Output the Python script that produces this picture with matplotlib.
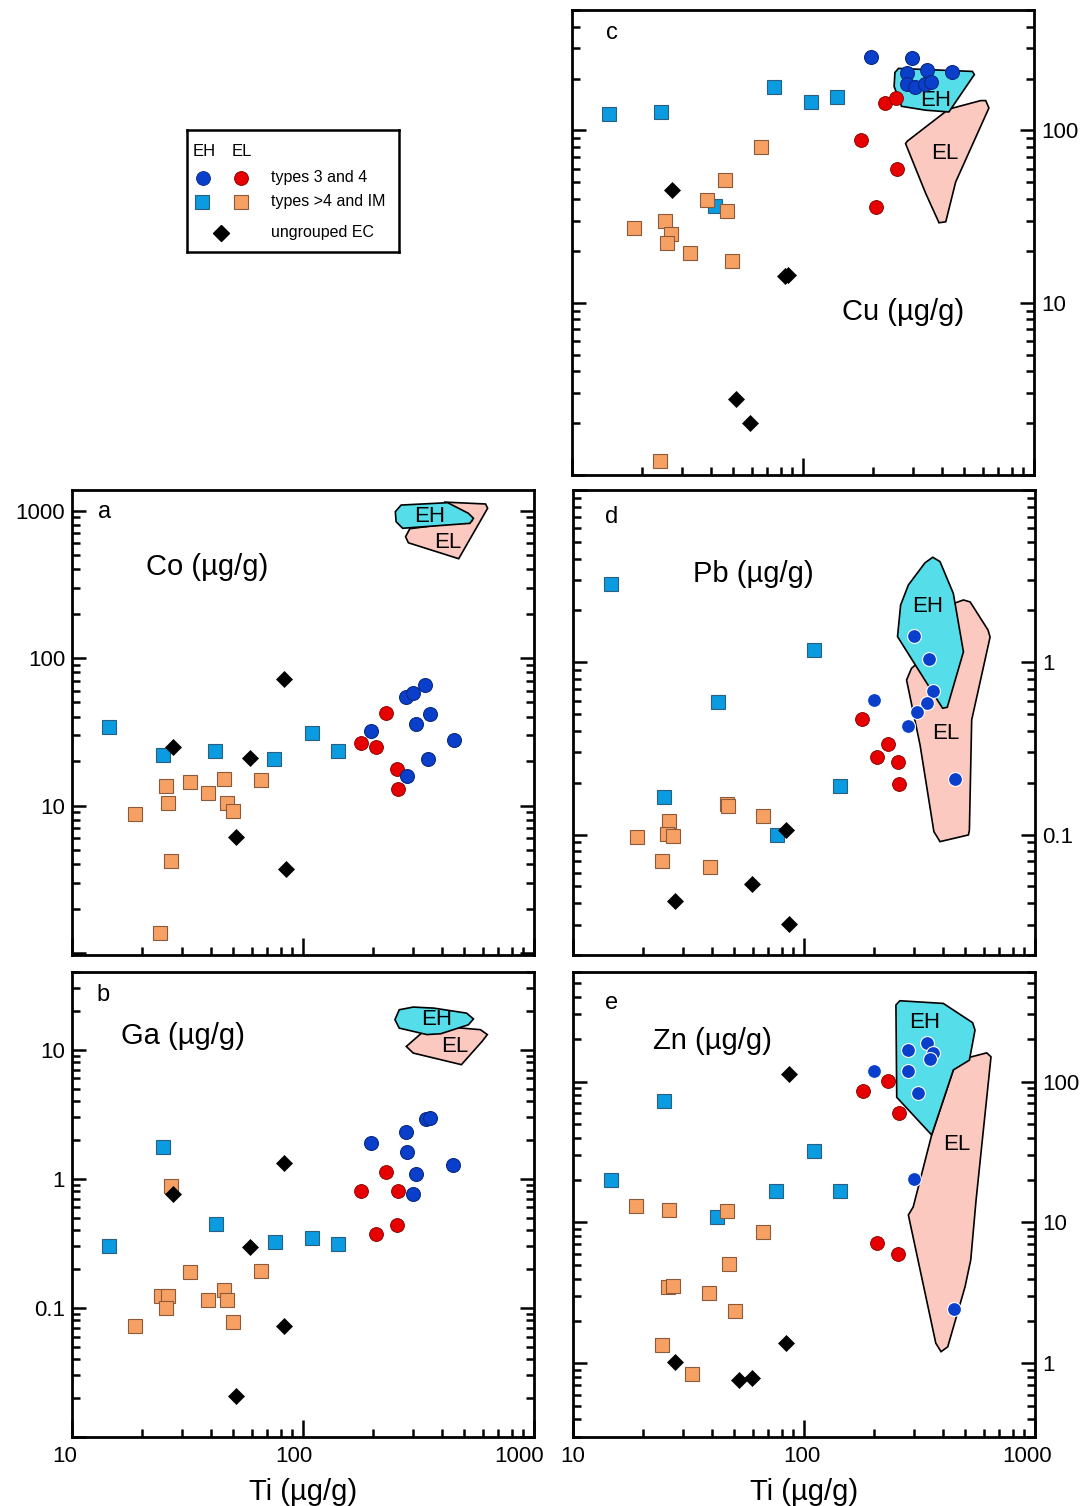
import numpy as np
import matplotlib
matplotlib.use('Agg')
import matplotlib.pyplot as plt
from matplotlib.patches import Polygon
from matplotlib.ticker import LogLocator, NullFormatter
from matplotlib.transforms import blended_transform_factory, ScaledTranslation

plt.rcParams['font.family'] = ['Liberation Sans', 'DejaVu Sans']

# ---- data, pairs of (Ti, element) in ug/g
# a: Co
co_eh34 = [(197, 32.1), (280, 54.7), (300, 58.2), (338, 65.8), (356, 41.6), (308, 35.7), (449, 27.9), (347, 20.7), (282, 15.9)]
co_el34 = [(228, 42.3), (178, 26.4), (207, 24.8), (255, 17.7), (257, 12.9)]
co_eh_hi = [(14.5, 34.0), (24.7, 22.0), (41.7, 23.6), (74.8, 20.6), (109, 31.2), (142, 23.5)]
co_el_hi = [(25.6, 13.6), (32.5, 14.4), (38.6, 12.2), (45.7, 15.1), (65.8, 14.9), (26.0, 10.4), (47.0, 10.4),
            (49.8, 9.2), (18.7, 8.8), (26.9, 4.2), (24.0, 1.37)]
co_ung = [(27.4, 25.1), (59.2, 20.9), (51.4, 6.1), (84.3, 3.7), (82.8, 71.8)]
co_field_eh = [(266, 1091), (423, 1132), (520, 959), (547, 887), (528, 820), (270, 759), (253, 841), (251, 984)]
co_field_el = [(408, 1143), (617, 1109), (630, 1038), (472, 472), (286, 605), (278, 665), (290, 754), (542, 855)]

# b: Ga
ga_eh34 = [(197, 1.90), (280, 2.31), (342, 2.91), (356, 2.96), (282, 1.60), (447, 1.29), (308, 1.08), (298, 0.764)]
ga_el34 = [(228, 1.12), (178, 0.80), (257, 0.80), (207, 0.377), (255, 0.436)]
ga_eh_hi = [(24.8, 1.75), (14.5, 0.304), (42.0, 0.443), (75.4, 0.323), (109, 0.349), (142, 0.315)]
ga_el_hi = [(26.9, 0.875), (32.5, 0.189), (65.8, 0.192), (24.2, 0.123), (26.1, 0.123), (25.5, 0.100),
            (38.6, 0.115), (45.7, 0.137), (46.7, 0.116), (49.8, 0.078), (18.7, 0.073)]
ga_ung = [(27.4, 0.764), (82.8, 1.33), (59.2, 0.297), (82.8, 0.072), (51.4, 0.0207)]
ga_field_eh = [(261, 20.4), (300, 21.4), (369, 21.0), (511, 19.2), (547, 17.3), (520, 15.6), (395, 13.3),
               (344, 13.1), (261, 14.7), (250, 17.1)]
ga_field_el = [(280, 10.6), (333, 13.9), (408, 15.1), (586, 14.3), (628, 13.1), (596, 11.6), (485, 7.66),
               (453, 7.89), (300, 9.42)]

# c: Cu
cu_eh34 = [(196, 268), (297, 265), (281, 214), (345, 225), (443, 217), (281, 186), (305, 178), (337, 185), (357, 192)]
cu_el34 = [(226, 145), (253, 154), (178, 88), (256, 59.7), (206, 36)]
cu_eh_hi = [(14.5, 124), (24.4, 128), (74.9, 178), (108.6, 146), (140.8, 157), (41.6, 36.4)]
cu_el_hi = [(65.6, 80), (45.8, 51.4), (38.5, 39.4), (46.7, 34.2), (18.6, 27.2), (25.3, 29.9), (26.7, 24.9),
            (25.9, 22.1), (32.3, 19.5), (49.4, 17.5), (24.0, 1.21)]
cu_ung = [(27.2, 45), (83.3, 14.2), (86.4, 14.4), (51.4, 2.75), (58.8, 2.0)]
cu_field_eh = [(259, 229), (541, 220), (552, 211), (428, 128), (340, 131), (267, 138), (248, 180), (250, 217)]
cu_field_el = [(428, 133), (588, 149), (618, 149), (638, 135), (458, 50.2), (415, 29.5), (388, 29.1),
               (340, 43), (278, 83.8), (283, 86.7)]

# d: Pb
pb_eh34 = [(300, 1.42), (348, 1.045), (361, 0.684), (340, 0.583), (309, 0.513), (200, 0.604), (283, 0.427), (451, 0.21)]
pb_el34 = [(178, 0.467), (232, 0.336), (208, 0.283), (256, 0.263), (259, 0.196)]
pb_eh_hi = [(14.6, 2.84), (110, 1.18), (42.3, 0.59), (143, 0.191), (24.8, 0.165), (76.2, 0.0995)]
pb_el_hi = [(46.3, 0.15), (47.0, 0.147), (26.1, 0.12), (66.2, 0.128), (18.9, 0.0973), (25.5, 0.101),
            (27.2, 0.098), (24.4, 0.0706), (39.2, 0.0651)]
pb_ung = [(83.6, 0.107), (59.6, 0.0517), (27.7, 0.0413), (85.9, 0.0302)]
pb_field_eh = [(361, 4.07), (388, 3.84), (443, 2.51), (490, 1.15), (417, 0.548), (398, 0.541), (254, 1.41),
               (262, 2.15), (283, 2.81), (334, 3.78)]
pb_field_el = [(490, 2.30), (524, 2.24), (626, 1.54), (639, 1.40), (532, 0.463), (520, 0.106), (515, 0.0995),
               (388, 0.091), (365, 0.104), (318, 0.331), (305, 0.433), (278, 0.789), (292, 0.923),
               (408, 1.35), (451, 2.21)]

# e: Zn
zn_eh34 = [(340, 189), (283, 168), (361, 160), (351, 144), (283, 118), (200, 119), (310, 82.6), (300, 20.3), (448, 2.43)]
zn_el34 = [(230, 101), (180, 85.8), (259, 60.1), (208, 7.12), (256, 5.97)]
zn_eh_hi = [(24.8, 72.8), (110, 32.4), (14.6, 20.0), (75.7, 16.7), (143, 16.8), (42.2, 10.9)]
zn_el_hi = [(18.7, 13.1), (26.1, 12.3), (46.3, 12.1), (66.2, 8.61), (47.3, 5.08), (25.7, 3.50), (27.2, 3.54),
            (38.9, 3.18), (50.2, 2.37), (24.4, 1.34), (32.8, 0.841)]
zn_ung = [(85.9, 113), (27.7, 1.02), (52.3, 0.762), (59.7, 0.784), (83.6, 1.39)]
zn_field_eh = [(250, 350), (260, 375), (401, 359), (537, 262), (550, 232), (520, 142), (443, 121), (357, 41.8), (252, 77.4)]
zn_field_el = [(498, 146), (618, 160), (645, 150), (556, 14.5), (527, 5.42), (498, 3.50), (419, 1.31), (392, 1.21),
               (372, 1.39), (283, 11.3), (297, 12.9), (357, 41.8), (443, 121)]

ti_ticks = [10, 100, 1000]
ti_ticklabels = ['10', '100', '1000']

# colours
c_eh34 = '#0a3fcc'
c_el34 = '#e60000'
c_eh_hi = '#0a9be0'
c_el_hi = '#f7a064'
c_field_eh = '#55dde9'
c_field_el = '#fcc9c0'

fig = plt.figure(figsize=(10.81, 15.06), dpi=100)

W, H = 1081, 1506


def box(left, top, right, bottom):
    return [left / W, 1 - bottom / H, (right - left) / W, (bottom - top) / H]


def panel(rect, ylim, yticks, ylabels, side, eh34, el34, eh_hi, el_hi, ung,
          field_eh, field_el, circ_edge):
    ax = fig.add_axes(rect)
    ax.set_xscale('log')
    ax.set_yscale('log')
    ax.add_patch(Polygon(field_el, closed=True, fc=c_field_el, ec='black', lw=1.2, zorder=1))
    ax.add_patch(Polygon(field_eh, closed=True, fc=c_field_eh, ec='black', lw=1.2, zorder=1.1))

    def pts(data, **kw):
        x, y = zip(*data)
        ax.plot(x, y, ls='none', zorder=3, **kw)

    pts(eh_hi, marker='s', ms=10.5, mfc=c_eh_hi, mec='#2a5f80', mew=0.8)
    pts(el_hi, marker='s', ms=10.5, mfc=c_el_hi, mec='#8a5a3a', mew=0.8)
    pts(ung, marker='D', ms=8, mfc='black', mec='black', mew=0.5)
    pts(el34, marker='o', ms=10, mfc=c_el34, mec='#800000', mew=0.6)
    pts(eh34, marker='o', ms=10, mfc=c_eh34, mec=circ_edge, mew=0.8)

    ax.set_xlim(10, 1000)
    ax.set_ylim(*ylim)
    ax.set_xticks(ti_ticks, ['', '', ''])
    ax.xaxis.set_minor_locator(LogLocator(base=10, subs=np.arange(2, 10), numticks=30))
    ax.xaxis.set_minor_formatter(NullFormatter())
    ax.set_yticks(yticks, ylabels)
    ax.yaxis.set_minor_locator(LogLocator(base=10, subs=np.arange(2, 10), numticks=30))
    ax.yaxis.set_minor_formatter(NullFormatter())
    ax.tick_params(axis='x', which='both', direction='in', bottom=True, top=False, width=1.8)
    ax.tick_params(axis='x', which='major', length=12)
    ax.tick_params(axis='x', which='minor', length=6)
    ax.tick_params(axis='y', which='both', direction='in', left=True, right=True,
                   labelleft=(side == 'left'), labelright=(side == 'right'),
                   width=1.8, labelsize=16, pad=5)
    ax.tick_params(axis='y', which='major', length=10)
    ax.tick_params(axis='y', which='minor', length=5.5)
    for s in ax.spines.values():
        s.set_linewidth(2)
    return ax


def ti_axis(ax, shifts):
    # tick labels placed by hand so that "1000" and the next "10" do not collide
    tr = blended_transform_factory(ax.transData, ax.transAxes)
    for v, lab, dx in zip(ti_ticks, ti_ticklabels, shifts):
        off = ScaledTranslation(dx / 100, -9 / 100, fig.dpi_scale_trans)
        ax.text(v, 0, lab, transform=tr + off, fontsize=16, ha='center', va='top')
    ax.set_xlabel('Ti (µg/g)', fontsize=21, labelpad=26)


def labels(ax, letter, lpos, name, npos, ehpos, elpos):
    ax.text(*lpos, letter, transform=ax.transAxes, fontsize=17, ha='center', va='center')
    ax.text(*npos, name, transform=ax.transAxes, fontsize=21, ha='center', va='center')
    ax.text(*ehpos, 'EH', transform=ax.transAxes, fontsize=16, ha='center', va='center', zorder=2)
    ax.text(*elpos, 'EL', transform=ax.transAxes, fontsize=16, ha='center', va='center', zorder=2)


ax_c = panel(box(572, 10, 1034, 475), (1, 500), [1, 10, 100], ['', '10', '100'], 'right',
             cu_eh34, cu_el34, cu_eh_hi, cu_el_hi, cu_ung, cu_field_eh, cu_field_el, '#0a2a80')
labels(ax_c, 'c', (0.087, 0.95), 'Cu (µg/g)', (0.716, 0.35), (0.786, 0.806), (0.807, 0.692))

ax_a = panel(box(72, 490, 534, 955), (0.97, 1380), [1, 10, 100, 1000], ['', '10', '100', '1000'], 'left',
             co_eh34, co_el34, co_eh_hi, co_el_hi, co_ung, co_field_eh, co_field_el, '#0a2a80')
labels(ax_a, 'a', (0.071, 0.953), 'Co (µg/g)', (0.292, 0.834), (0.775, 0.944), (0.814, 0.888))

ax_d = panel(box(573, 490, 1035, 955), (0.02, 10), [0.1, 1, 10], ['0.1', '1', ''], 'right',
             pb_eh34, pb_el34, pb_eh_hi, pb_el_hi, pb_ung, pb_field_eh, pb_field_el, 'white')
labels(ax_d, 'd', (0.084, 0.942), 'Pb (µg/g)', (0.39, 0.819), (0.768, 0.75), (0.807, 0.477))

ax_b = panel(box(72, 972, 534, 1437), (0.01, 40), [0.01, 0.1, 1, 10], ['', '0.1', '1', '10'], 'left',
             ga_eh34, ga_el34, ga_eh_hi, ga_el_hi, ga_ung, ga_field_eh, ga_field_el, '#0a2a80')
labels(ax_b, 'b', (0.067, 0.95), 'Ga (µg/g)', (0.24, 0.862), (0.79, 0.897), (0.829, 0.839))
ti_axis(ax_b, [-7, -9, -15])

ax_e = panel(box(573, 972, 1035, 1437), (0.3, 600), [1, 10, 100], ['1', '10', '100'], 'right',
             zn_eh34, zn_el34, zn_eh_hi, zn_el_hi, zn_ung, zn_field_eh, zn_field_el, 'white')
labels(ax_e, 'e', (0.084, 0.933), 'Zn (µg/g)', (0.301, 0.852), (0.762, 0.892), (0.831, 0.63))
ti_axis(ax_e, [0, -2, -8])

# legend box
lg = fig.add_axes(box(187, 130, 399, 252))
lg.set_xlim(0, 1)
lg.set_ylim(0, 1)
lg.set_xticks([])
lg.set_yticks([])
for s in lg.spines.values():
    s.set_linewidth(1.8)
lg.text(0.08, 0.82, 'EH', fontsize=12, ha='center', va='center')
lg.text(0.26, 0.82, 'EL', fontsize=12, ha='center', va='center')
lg.plot([0.075], [0.607], marker='o', ms=10, mfc=c_eh34, mec='#0a2a80', mew=0.6)
lg.plot([0.255], [0.607], marker='o', ms=10, mfc=c_el34, mec='#800000', mew=0.6)
lg.plot([0.071], [0.41], marker='s', ms=10.5, mfc=c_eh_hi, mec='#2a5f80', mew=0.8)
lg.plot([0.255], [0.41], marker='s', ms=10.5, mfc=c_el_hi, mec='#8a5a3a', mew=0.8)
lg.plot([0.16], [0.156], marker='D', ms=8, mfc='black', mec='black')
lg.text(0.396, 0.607, 'types 3 and 4', fontsize=11.5, va='center')
lg.text(0.396, 0.41, 'types >4 and IM', fontsize=11.5, va='center')
lg.text(0.396, 0.156, 'ungrouped EC', fontsize=11.5, va='center')

fig.savefig('out.png', dpi=100)
